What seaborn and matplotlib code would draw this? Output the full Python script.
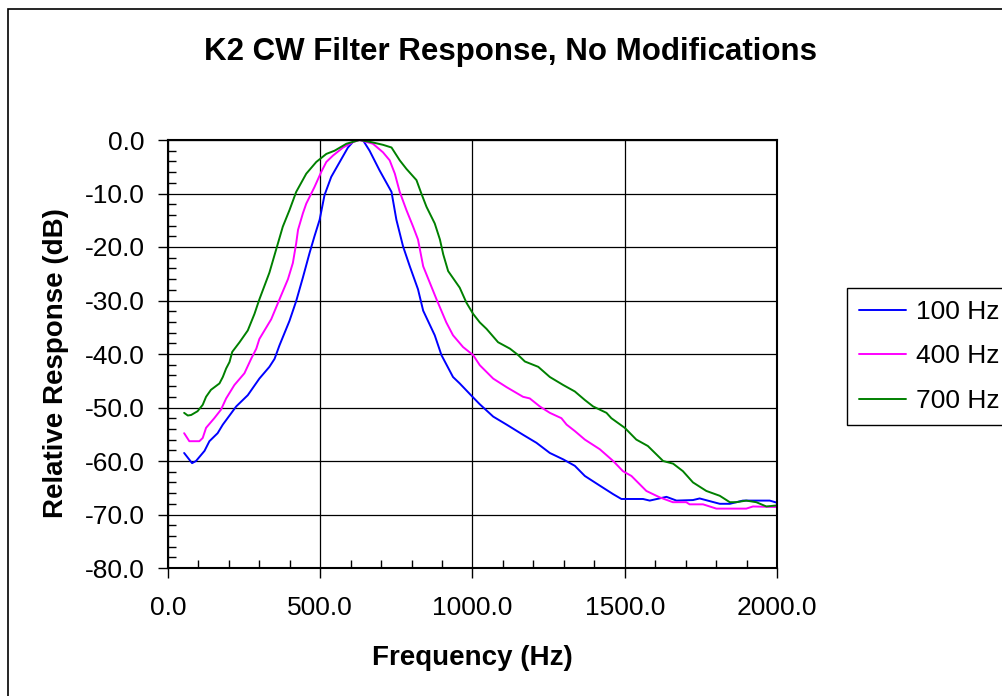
import matplotlib
matplotlib.use("Agg")
import matplotlib.pyplot as plt
import seaborn as sns
import pandas as pd
from matplotlib.ticker import MultipleLocator, FormatStrFormatter
from matplotlib.patches import Rectangle

sns.set_theme(style="white")
plt.rcParams['font.family'] = ['Liberation Sans', 'DejaVu Sans']

freq_100 = [53, 79, 92, 120, 136, 163, 180, 224, 262, 300, 333, 350, 366, 399, 421, 443, 465, 481, 498, 514,
            536, 564, 591, 613, 640, 662, 695, 734, 750, 772, 794, 821, 838, 876, 898, 936, 958, 1000, 1024,
            1068, 1112, 1166, 1210, 1254, 1298, 1336, 1369, 1418, 1462, 1489, 1560, 1582, 1637, 1670, 1724,
            1746, 1812, 1845, 1888, 1976, 2000]
resp_100 = [-58.5, -60.4, -60.0, -58.1, -56.3, -54.8, -53.2, -49.8, -47.7, -44.6, -42.4, -40.9, -38.4, -33.8,
            -30.1, -25.7, -21.1, -18.0, -14.9, -10.3, -6.9, -4.1, -1.4, 0.0, 0.0, -2.0, -5.7, -9.7, -14.9,
            -19.9, -23.6, -27.9, -31.9, -36.5, -40.2, -44.3, -45.5, -48.0, -49.4, -51.7, -53.2, -55.1, -56.6,
            -58.5, -59.7, -60.9, -62.8, -64.6, -66.2, -67.1, -67.1, -67.4, -66.7, -67.4, -67.3, -67.0, -68.0,
            -68.0, -67.4, -67.4, -67.8]

freq_400 = [53, 70, 103, 114, 125, 152, 174, 191, 218, 251, 273, 290, 300, 339, 366, 394, 410, 421, 427, 443,
            454, 481, 503, 520, 542, 575, 607, 629, 673, 706, 728, 745, 761, 783, 805, 821, 838, 860, 882, 914,
            936, 969, 1002, 1024, 1068, 1112, 1166, 1188, 1221, 1254, 1292, 1309, 1336, 1369, 1418, 1462, 1494,
            1522, 1571, 1615, 1658, 1702, 1713, 1757, 1801, 1899, 1921, 2000]
resp_400 = [-54.8, -56.3, -56.3, -55.7, -53.8, -52.0, -50.4, -48.3, -45.8, -43.6, -40.9, -39.0, -37.2, -33.5,
            -29.8, -26.0, -23.0, -19.3, -16.8, -13.7, -11.9, -8.8, -6.0, -4.1, -2.9, -1.4, -0.4, 0.0, -0.7,
            -2.3, -3.8, -6.3, -9.7, -13.1, -16.2, -18.6, -23.6, -26.7, -29.8, -34.1, -36.5, -38.7, -40.2,
            -42.1, -44.6, -46.2, -48.0, -48.3, -49.8, -51.0, -52.0, -53.2, -54.4, -56.0, -57.8, -60.0, -61.9,
            -62.8, -65.6, -66.8, -67.7, -67.7, -68.1, -68.1, -68.9, -68.9, -68.5, -68.6]

freq_700 = [53, 65, 76, 97, 114, 125, 141, 169, 180, 191, 202, 211, 235, 262, 284, 300, 333, 355, 377, 399,
            421, 454, 487, 520, 547, 586, 629, 668, 706, 734, 761, 783, 816, 832, 849, 876, 893, 904, 920, 958,
            980, 1002, 1024, 1046, 1084, 1123, 1150, 1172, 1216, 1254, 1298, 1336, 1369, 1396, 1440, 1456,
            1500, 1538, 1576, 1626, 1659, 1691, 1724, 1768, 1812, 1845, 1866, 1899, 1932, 1965, 2000]
resp_700 = [-51.0, -51.5, -51.4, -50.7, -49.5, -48.0, -46.7, -45.5, -44.3, -42.7, -41.5, -39.6, -37.8, -35.6,
            -32.5, -29.8, -24.8, -20.5, -16.2, -13.1, -9.7, -6.3, -4.1, -2.6, -2.0, -0.7, 0.0, -0.4, -0.9,
            -1.4, -3.8, -5.4, -7.5, -10.0, -12.5, -15.6, -18.6, -21.4, -24.5, -27.6, -30.4, -32.5, -34.1,
            -35.3, -37.8, -39.0, -40.2, -41.4, -42.4, -44.3, -45.8, -47.0, -48.6, -49.8, -51.0, -52.0, -53.8,
            -56.0, -57.2, -60.0, -60.5, -61.9, -64.0, -65.6, -66.5, -67.7, -67.7, -67.4, -67.7, -68.5, -68.3]

series_names = ["100 Hz", "400 Hz", "700 Hz"]
series_colors = ["#0000FF", "#FF00FF", "#008000"]

frames = []
for name, f, r in zip(series_names, [freq_100, freq_400, freq_700], [resp_100, resp_400, resp_700]):
    frames.append(pd.DataFrame({"Frequency": f, "Response": r, "Series": name}))
df = pd.concat(frames, ignore_index=True)

fig = plt.figure(figsize=(10.03, 6.96), dpi=100)
ax = fig.add_axes([168/1003, 1-568/696, (777-168)/1003, (568-140)/696])

sns.lineplot(data=df, x="Frequency", y="Response", hue="Series", palette=series_colors,
             hue_order=series_names, sort=False, estimator=None, linewidth=1.4, ax=ax)

ax.set_xlim(0, 2000)
ax.set_ylim(-80, 0)
ax.xaxis.set_major_locator(MultipleLocator(500))
ax.xaxis.set_minor_locator(MultipleLocator(100))
ax.yaxis.set_major_locator(MultipleLocator(10))
ax.yaxis.set_minor_locator(MultipleLocator(2))
ax.xaxis.set_major_formatter(FormatStrFormatter('%.1f'))
ax.yaxis.set_major_formatter(FormatStrFormatter('%.1f'))
ax.grid(True, which='major', color='black', linewidth=0.9)
ax.set_axisbelow(True)
ax.tick_params(axis='both', which='major', direction='out', length=7, width=1, color='black',
               labelsize=19, labelcolor='black', bottom=True, left=True)
ax.tick_params(axis='x', which='major', pad=13)
ax.tick_params(axis='y', which='major', pad=10)
ax.tick_params(axis='both', which='minor', direction='in', length=6, width=1, color='black',
               bottom=True, left=True)
for s in ax.spines.values():
    s.set_color('black')
    s.set_linewidth(1.5)

ax.set_xlabel("Frequency (Hz)", fontsize=20, fontweight='bold', labelpad=18, color='black')
ax.set_ylabel("Relative Response (dB)", fontsize=20, fontweight='bold', labelpad=10, color='black')
ax.yaxis.set_label_coords(-0.163, 0.478)
fig.text(0.509, 1-52/696, "K2 CW Filter Response, No Modifications", ha='center', va='center',
         fontsize=22.5, fontweight='bold', color='black')

ax.get_legend().remove()
handles, labels = ax.get_legend_handles_labels()
leg = fig.legend(handles, labels, loc='upper left', bbox_to_anchor=(847/1003, 1-288/696),
                 fontsize=19, frameon=True, fancybox=False, edgecolor='black', framealpha=1,
                 handlelength=1.8, handletextpad=0.38, borderpad=0.45, labelspacing=0.78,
                 borderaxespad=0)
leg.get_frame().set_linewidth(1)
for t in leg.get_texts():
    t.set_color('black')
for h in leg.get_lines():
    h.set_linewidth(1.4)

fig.patches.append(Rectangle((8/1003, -0.1), 1.2, 1 - 9/696 + 0.1, transform=fig.transFigure,
                             fill=False, edgecolor='black', linewidth=1.2))

fig.savefig("out.png", dpi=100)
